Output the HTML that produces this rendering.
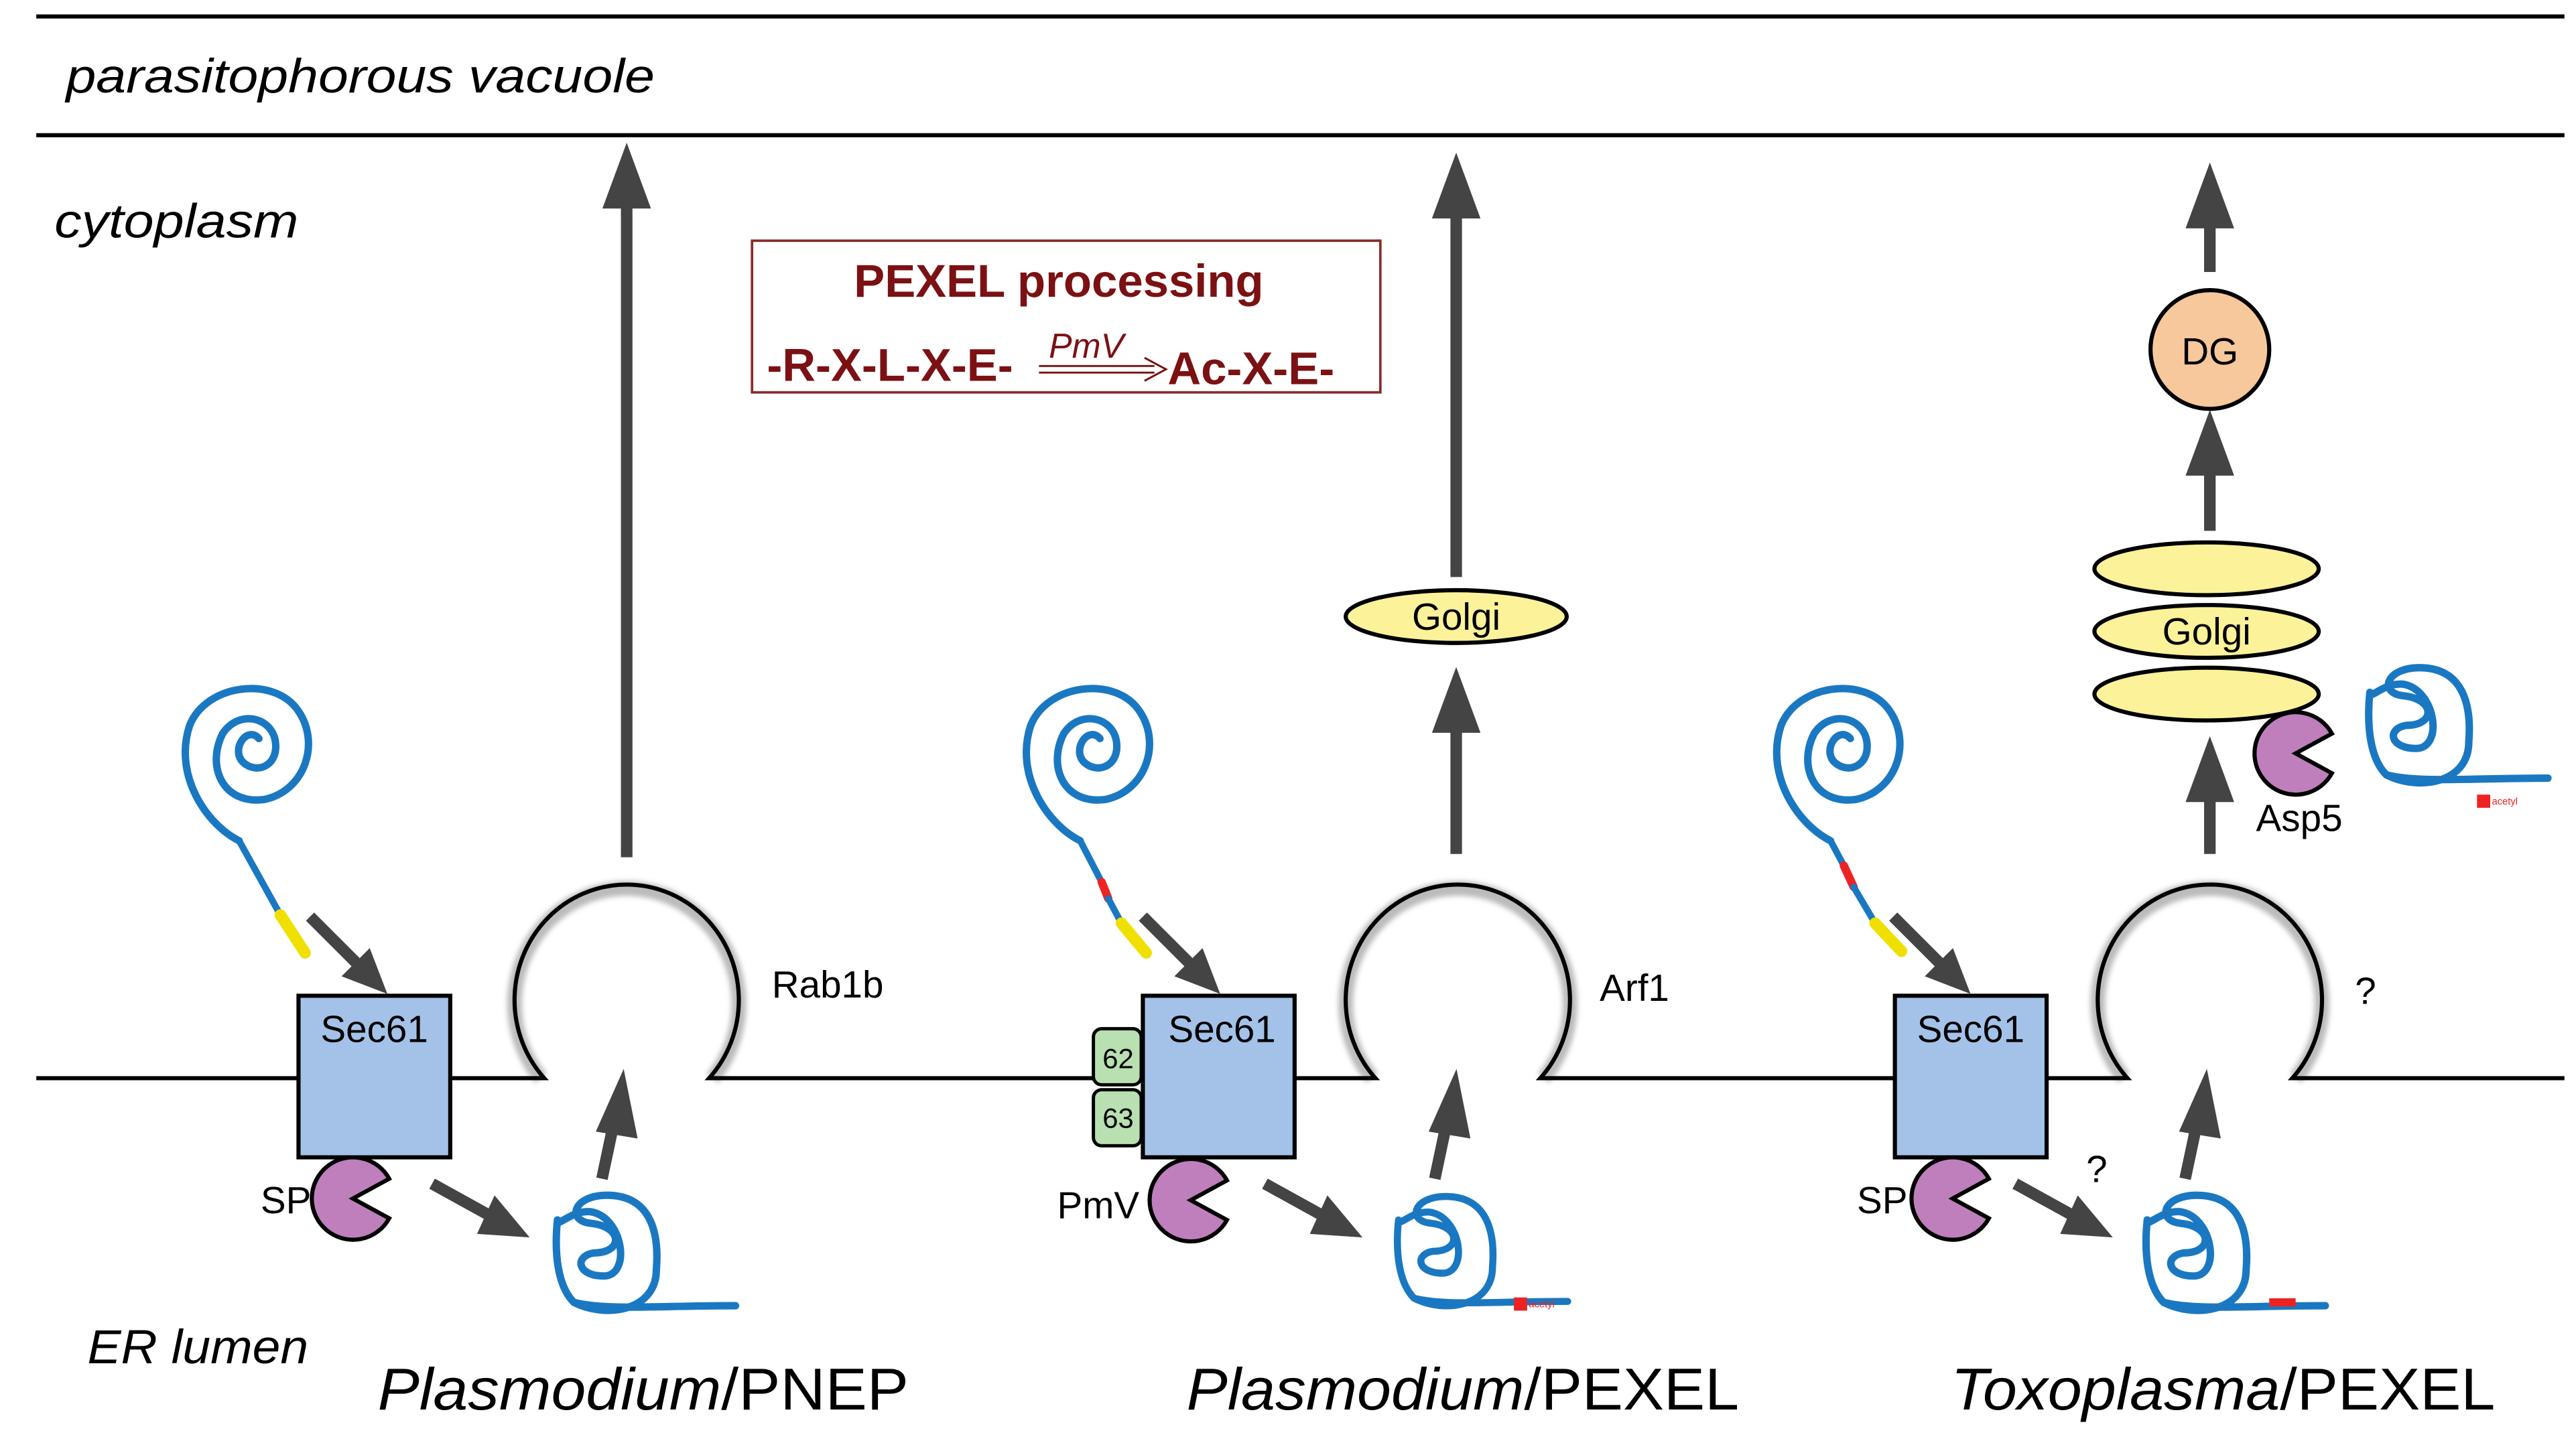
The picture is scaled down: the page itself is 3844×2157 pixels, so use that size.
<!DOCTYPE html>
<html><head><meta charset="utf-8"><style>html,body{margin:0;padding:0;background:#fff}svg{display:block}</style></head>
<body>
<svg width="3844" height="2157" viewBox="0 0 1562 876.5" xmlns="http://www.w3.org/2000/svg" font-family="'Liberation Sans', sans-serif">
<defs>
<filter id="bl" x="-20%" y="-20%" width="140%" height="140%"><feGaussianBlur stdDeviation="1.5"/></filter>
<g id="ves">
 <path d="M-52 650 A68 70 0 1 1 52 650" fill="none" stroke="#bbb" stroke-width="9" filter="url(#bl)"/>
</g>
<g id="pac">
 <path d="M0 0 L22 -12 A25 25 0 1 0 22 12 Z" fill="#be7fbc" stroke="#000" stroke-width="2.5" transform="translate(-4,0)"/>
</g>
<g id="curl" fill="none" stroke="#1a78c2" stroke-width="4.5" stroke-linecap="round" stroke-linejoin="round">
 <path d="M0 0 C-20 -10 -40 -40 -30 -70 C-20 -95 20 -100 35 -80 C50 -60 40 -30 15 -25 C-10 -22 -20 -45 -10 -65 C0 -80 20 -75 22 -60 C24 -45 10 -40 2 -48 M2 -48 C-5 -56 5 -70 12 -62"/>
</g>
<g id="lum" fill="none" stroke="#1a78c2" stroke-width="4.5" stroke-linecap="round" stroke-linejoin="round">
 <path d="M0 0 C-2 20 0 40 10 50 C30 60 60 55 60 30 C62 5 55 -15 30 -15 C10 -15 5 0 20 2 C40 4 40 20 22 20 C10 22 12 34 28 34 C45 34 40 -2 20 -5 C8 -6 0 5 0 0 M10 50 C30 55 60 52 108 52"/>
</g>
</defs>

<line x1="22" y1="10" x2="1555" y2="10" stroke="#000" stroke-width="2.5"/>
<line x1="22" y1="82" x2="1555" y2="82" stroke="#000" stroke-width="2.5"/>
<text x="40" y="56" font-size="29" font-style="italic" textLength="357" lengthAdjust="spacingAndGlyphs">parasitophorous vacuole</text>
<text x="33" y="144" font-size="29" font-style="italic" textLength="148" lengthAdjust="spacingAndGlyphs">cytoplasm</text>
<text x="53" y="827" font-size="29" font-style="italic" textLength="134" lengthAdjust="spacingAndGlyphs">ER lumen</text>

<rect x="456" y="146" width="381" height="92" fill="#fff" stroke="#8b2a2a" stroke-width="1.5"/>
<text x="642" y="180" font-size="28" font-weight="bold" fill="#7b1113" text-anchor="middle">PEXEL processing</text>
<text x="465" y="231" font-size="28" font-weight="bold" fill="#7b1113">-R-X-L-X-E-</text>
<text x="708" y="233" font-size="28" font-weight="bold" fill="#7b1113">Ac-X-E-</text>
<text x="636" y="217" font-size="21" font-style="italic" fill="#7b1113">PmV</text>
<path d="M630 222 H700 M630 226 H700 M694 217 L707 224 L694 231" fill="none" stroke="#7b1113" stroke-width="1.2"/>

<use href="#ves" transform="translate(380,4)"/>
<use href="#ves" transform="translate(884,4)"/>
<use href="#ves" transform="translate(1340,4)"/>
<path d="M22 654 H330 A68 70 0 1 1 430 654 H834 A68 70 0 1 1 934 654 H1290 A68 70 0 1 1 1390 654 H1555" fill="none" stroke="#000" stroke-width="2.5"/>

<g fill="#444" stroke="#444">
<line x1="380" y1="520" x2="380" y2="120" stroke-width="7"/><path d="M366 126 L380 88 L394 126 Z"/>
<line x1="883" y1="518" x2="883" y2="440" stroke-width="7"/><path d="M869 444 L883 406 L897 444 Z"/>
<line x1="883" y1="350" x2="883" y2="128" stroke-width="7"/><path d="M869 132 L883 94 L897 132 Z"/>
<line x1="1340" y1="518" x2="1340" y2="482" stroke-width="7"/><path d="M1326 486 L1340 448 L1354 486 Z"/>
<line x1="1340" y1="322" x2="1340" y2="285" stroke-width="7"/><path d="M1326 288 L1340 250 L1354 288 Z"/>
<line x1="1340" y1="165" x2="1340" y2="134" stroke-width="7"/><path d="M1326 138 L1340 100 L1354 138 Z"/>
</g>

<g id="sm" fill="#444" stroke="#444">
 <line x1="188" y1="556" x2="218" y2="586" stroke-width="7"/><path d="M208 592 L234 602 L224 576 Z"/>
 <line x1="262" y1="718" x2="300" y2="739" stroke-width="7"/><path d="M290 748 L320 750 L300 726 Z"/>
 <line x1="365" y1="715" x2="372" y2="682" stroke-width="7"/><path d="M362 686 L378 650 L386 690 Z"/>
</g>
<use href="#sm" transform="translate(505,0)"/>
<use href="#sm" transform="translate(960,0)"/>

<g font-size="23" text-anchor="middle">
<rect x="181" y="604" width="92" height="98" fill="#a4c2e8" stroke="#000" stroke-width="2.5"/><text x="227" y="632">Sec61</text>
<rect x="693" y="604" width="92" height="98" fill="#a4c2e8" stroke="#000" stroke-width="2.5"/><text x="741" y="632">Sec61</text>
<rect x="1149" y="604" width="92" height="98" fill="#a4c2e8" stroke="#000" stroke-width="2.5"/><text x="1195" y="632">Sec61</text>
<rect x="663" y="624" width="29" height="34" rx="5" fill="#b8e0b0" stroke="#000" stroke-width="2"/><text x="678" y="648" font-size="17">62</text>
<rect x="663" y="661" width="29" height="34" rx="5" fill="#b8e0b0" stroke="#000" stroke-width="2"/><text x="678" y="684" font-size="17">63</text>
</g>

<use href="#pac" transform="translate(218,727)"/>
<use href="#pac" transform="translate(726,728)"/>
<use href="#pac" transform="translate(1188,727)"/>
<use href="#pac" transform="translate(1396,457)"/>
<g font-size="23">
<text x="158" y="736">SP</text>
<text x="641" y="739">PmV</text>
<text x="1126" y="736">SP</text>
<text x="1368" y="504">Asp5</text>
<text x="468" y="605">Rab1b</text>
<text x="970" y="607">Arf1</text>
<text x="1428" y="609">?</text>
<text x="1265" y="717">?</text>
</g>

<g fill="#fbf29a" stroke="#000" stroke-width="2.5">
<ellipse cx="883" cy="374" rx="67" ry="16"/>
<ellipse cx="1338" cy="345" rx="68" ry="16"/>
<ellipse cx="1338" cy="383" rx="68" ry="16"/>
<ellipse cx="1338" cy="421" rx="68" ry="16"/>
</g>
<g font-size="23" text-anchor="middle"><text x="883" y="382">Golgi</text><text x="1338" y="391">Golgi</text></g>
<circle cx="1340" cy="212" r="36" fill="#f6c89c" stroke="#000" stroke-width="2.5"/>
<text x="1340" y="221" font-size="23" text-anchor="middle">DG</text>

<g fill="none" stroke-linecap="round">
<use href="#curl" transform="translate(145,510)"/>
<path d="M145 510 L170 555" stroke="#1a78c2" stroke-width="4"/>
<path d="M170 555 L185 578" stroke="#f0e000" stroke-width="7"/>
<use href="#curl" transform="translate(655,510)"/>
<path d="M655 510 L668 535" stroke="#1a78c2" stroke-width="4"/>
<path d="M668 535 L672 545" stroke="#e22" stroke-width="5"/>
<path d="M672 545 L680 560" stroke="#1a78c2" stroke-width="4"/>
<path d="M680 560 L695 578" stroke="#f0e000" stroke-width="7"/>
<use href="#curl" transform="translate(1110,510)"/>
<path d="M1110 510 L1118 525" stroke="#1a78c2" stroke-width="4"/>
<path d="M1118 525 L1124 538" stroke="#e22" stroke-width="5"/>
<path d="M1124 538 L1137 560" stroke="#1a78c2" stroke-width="4"/>
<path d="M1137 560 L1153 577" stroke="#f0e000" stroke-width="7"/>
</g>

<use href="#lum" transform="translate(338,740)"/>
<use href="#lum" transform="translate(848,740) scale(0.95)"/>
<rect x="918" y="787" width="8" height="8" fill="#e22"/><text x="927" y="793" font-size="6" fill="#e22">acetyl</text>
<use href="#lum" transform="translate(1302,740)"/>
<path d="M1376 790 L1392 790" stroke="#e22" stroke-width="5"/>
<use href="#lum" transform="translate(1437,420)"/>
<rect x="1502" y="482" width="8" height="8" fill="#e22"/><text x="1511" y="488" font-size="6" fill="#e22">acetyl</text>

<g font-size="36" text-anchor="middle">
<text x="390" y="855" textLength="322" lengthAdjust="spacingAndGlyphs"><tspan font-style="italic">Plasmodium</tspan>/PNEP</text>
<text x="887" y="855" textLength="335" lengthAdjust="spacingAndGlyphs"><tspan font-style="italic">Plasmodium</tspan>/PEXEL</text>
<text x="1348" y="855" textLength="330" lengthAdjust="spacingAndGlyphs"><tspan font-style="italic">Toxoplasma</tspan>/PEXEL</text>
</g>
</svg>
</body></html>
